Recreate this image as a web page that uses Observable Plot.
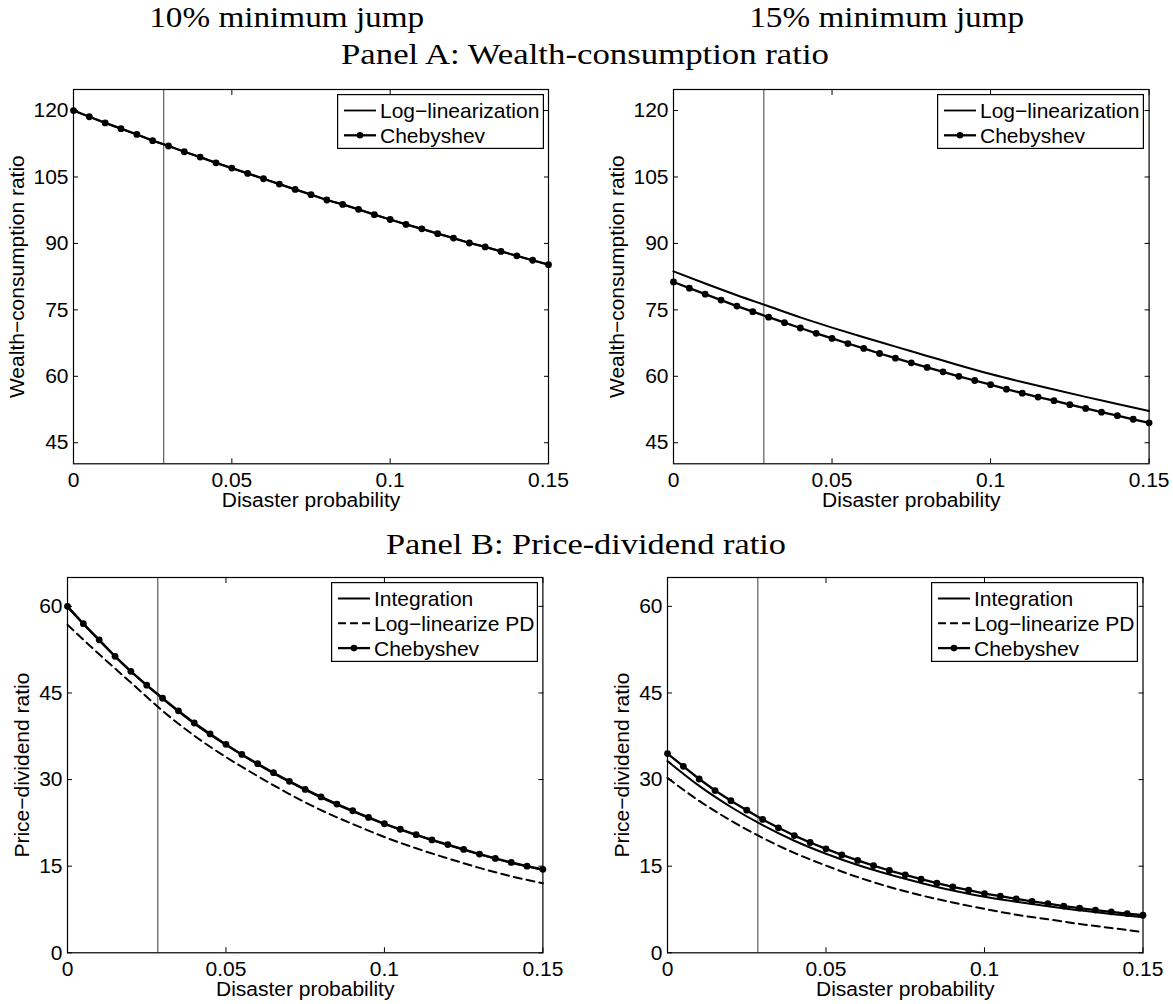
<!DOCTYPE html>
<html><head><meta charset="utf-8">
<script src="https://cdn.jsdelivr.net/npm/d3@7"></script>
<script src="https://cdn.jsdelivr.net/npm/@observablehq/plot@0.6"></script>
<style>
body{margin:0;background:#fff;}
#root{position:relative;width:1173px;height:1004px;background:#fff;overflow:hidden;}
#root svg{position:absolute;overflow:visible;}
</style></head><body><div id="root"></div>
<script>
// ---------- data ----------
const xFine = [0,0.005,0.01,0.015,0.02,0.025,0.03,0.035,0.04,0.045,0.05,0.055,0.06,0.065,0.07,0.075,0.08,0.085,0.09,0.095,0.1,0.105,0.11,0.115,0.12,0.125,0.13,0.135,0.14,0.145,0.15];
const xCoarse = [0,0.01,0.02,0.03,0.04,0.05,0.06,0.07,0.08,0.09,0.1,0.11,0.12,0.13,0.14,0.15];
const xTicks = [0, 0.05, 0.1, 0.15];
const xTickLabels = ["0", "0.05", "0.1", "0.15"];
const yTicksWC = [45, 60, 75, 90, 105, 120];
const yTicksPD = [0, 15, 30, 45, 60];
const disasterProb = 0.0285;

const columnTitles = ["10% minimum jump", "15% minimum jump"];
const panelTitles = ["Panel A: Wealth-consumption ratio", "Panel B: Price-dividend ratio"];
const xLabel = "Disaster probability";
const yLabels = ["Wealth\u2212consumption ratio", "Price\u2212dividend ratio"];

// Panel A, 10% jump
const wcCheb10 = [120.0,118.6,117.2,115.9,114.6,113.2,112.0,110.7,109.5,108.2,107.0,105.8,104.6,103.4,102.2,101.0,99.8,98.8,97.7,96.5,95.4,94.3,93.3,92.2,91.2,90.1,89.2,88.2,87.2,86.2,85.2];
const wcLog10  = [120.0,118.6,117.2,115.9,114.6,113.2,112.0,110.7,109.5,108.2,107.0,105.8,104.6,103.4,102.2,101.0,99.8,98.8,97.7,96.5,95.4,94.3,93.3,92.2,91.2,90.1,89.2,88.2,87.2,86.2,85.2];
// Panel A, 15% jump
const wcCheb15 = [81.3,79.9,78.55,77.2,75.85,74.6,73.35,72.1,70.9,69.7,68.55,67.4,66.3,65.15,64.1,63.05,62.0,61.0,60.0,59.05,58.1,57.1,56.2,55.3,54.5,53.6,52.75,51.9,51.1,50.3,49.5];
const wcLog15  = [83.7,80.95,78.3,75.8,73.3,71.0,68.8,66.7,64.6,62.5,60.5,58.7,57.0,55.35,53.75,52.15];
// Panel B, 10% jump
const pdCheb10 = [60.0,57.0,54.2,51.35,48.75,46.35,44.1,41.9,39.8,37.9,36.1,34.35,32.75,31.2,29.7,28.3,27.0,25.75,24.6,23.45,22.35,21.4,20.45,19.55,18.75,17.9,17.1,16.35,15.65,15.0,14.45];
const pdInt10  = [59.9,54.1,48.7,44.0,39.7,36.0,32.65,29.6,26.9,24.5,22.3,20.4,18.65,17.05,15.6,14.35];
const pdLog10  = [56.8,51.7,46.8,41.9,37.6,33.9,30.6,27.5,24.7,22.3,20.05,18.1,16.35,14.7,13.25,12.05];
// Panel B, 15% jump
const pdCheb15 = [34.5,32.3,30.1,28.1,26.35,24.7,23.1,21.65,20.3,19.1,18.0,16.95,16.0,15.1,14.25,13.5,12.75,12.05,11.4,10.85,10.25,9.8,9.35,8.9,8.5,8.1,7.75,7.4,7.1,6.8,6.5];
const pdInt15  = [33.2,28.9,25.25,22.1,19.4,17.15,15.2,13.55,12.1,10.8,9.7,8.85,8.05,7.35,6.7,6.15];
const pdLog15  = [30.3,26.3,22.9,19.9,17.3,15.1,13.1,11.4,9.95,8.7,7.6,6.6,5.8,5.0,4.3,3.6];

// ---------- drawing ----------
const SANS = "'Liberation Sans', Arial, Helvetica, sans-serif";
const SERIF = "'Liberation Serif', 'Times New Roman', serif";
const root = d3.select("#root");

// titles (serif, stretched to the reference widths)
const tsvg = root.append("svg").attr("width", 1173).attr("height", 1004).style("left", "0px").style("top", "0px");
[[columnTitles[0], 286.7, 27.3, 275], [columnTitles[1], 886.7, 27.3, 275],
 [panelTitles[0], 585, 64.3, 488], [panelTitles[1], 586, 553.5, 400]]
  .forEach(([t, x, y, w]) => tsvg.append("text").attr("x", x).attr("y", y).attr("text-anchor", "middle")
    .attr("font-family", SERIF).attr("font-size", 30).attr("fill", "black")
    .attr("textLength", w).attr("lengthAdjust", "spacingAndGlyphs").text(t));

const toRows = (xs, ys) => xs.map((x, i) => ({x, y: ys[i]}));

function drawPanel(c) {
  const ml = 80, mr = 20, mt = 20, mb = 60;
  const W = c.fr - c.fl + ml + mr, H = c.fb - c.ft + mt + mb;
  const marks = [
    Plot.ruleX([disasterProb], {stroke: "#3c3c3c", strokeWidth: 1})
  ];
  c.lines.forEach(s => {
    marks.push(Plot.line(toRows(s.x, s.y), {x: "x", y: "y", stroke: "black", strokeWidth: s.sw,
      strokeDasharray: s.dash, curve: s.x.length > 20 ? "linear" : "monotone-x"}));
    if (s.marker) marks.push(Plot.dot(toRows(s.x, s.y), {x: "x", y: "y", r: 3.4, fill: "black"}));
  });
  marks.push(
    Plot.frame({stroke: "black", strokeWidth: 1.2}),
    Plot.axisX(xTicks, {anchor: "bottom", tickSize: -5, tickPadding: 13, label: null,
      tickFormat: d => xTickLabels[xTicks.indexOf(d)]}),
    Plot.axisX(xTicks, {anchor: "top", tickSize: -5, fill: "none", label: null}),
    Plot.axisY(c.yTicks, {anchor: "left", tickSize: -5, tickPadding: 10, label: null, tickFormat: d => String(d)}),
    Plot.axisY(c.yTicks, {anchor: "right", tickSize: -5, fill: "none", label: null}),
    Plot.text([xLabel], {frameAnchor: "bottom", dy: c.xlabDy, textAnchor: "middle", lineAnchor: "middle", fontSize: 21}),
    Plot.text([c.ylabel], {frameAnchor: "left", dx: c.ylabDx, rotate: -90, textAnchor: "middle", lineAnchor: "middle", fontSize: 21})
  );
  const p = Plot.plot({
    width: W, height: H, marginLeft: ml, marginRight: mr, marginTop: mt, marginBottom: mb,
    x: {domain: [0, 0.15]},
    y: {domain: c.yDomain},
    style: {fontFamily: SANS, fontSize: "21px", color: "black", background: "transparent", overflow: "visible"},
    marks
  });
  p.style.left = (c.fl - ml) + "px";
  p.style.top = (c.ft - mt) + "px";
  root.node().appendChild(p);

  // legend
  const n = c.legend.length;
  const bw = 207, bh = n === 2 ? 55 : 80;
  const bx = c.fr - 4.6 - bw, by = c.ft + 4.5;
  const lg = root.append("svg").attr("width", bw).attr("height", bh).style("left", bx + "px").style("top", by + "px");
  lg.append("rect").attr("x", 0.6).attr("y", 0.6).attr("width", bw - 1.2).attr("height", bh - 1.2)
    .attr("fill", "white").attr("stroke", "black").attr("stroke-width", 1.2);
  c.legend.forEach((it, i) => {
    const y = 16.5 + 24.8 * i;
    lg.append("line").attr("x1", 7).attr("x2", 39).attr("y1", y).attr("y2", y)
      .attr("stroke", "black").attr("stroke-width", it.sw).attr("stroke-dasharray", it.dash || null);
    if (it.marker) lg.append("circle").attr("cx", 23).attr("cy", y).attr("r", 3.3).attr("fill", "black");
    lg.append("text").attr("x", 43).attr("y", y).attr("dy", "0.36em").attr("font-family", SANS)
      .attr("font-size", 21).attr("fill", "black").text(it.label);
  });
}

const legWC = [
  {label: "Log\u2212linearization", sw: 1.8},
  {label: "Chebyshev", sw: 2.3, marker: true}
];
const legPD = [
  {label: "Integration", sw: 2},
  {label: "Log\u2212linearize PD", sw: 2, dash: "8,4"},
  {label: "Chebyshev", sw: 2.3, marker: true}
];

drawPanel({fl: 73.2, fr: 548.2, ft: 89, fb: 463.3, yDomain: [40.25, 124.75], yTicks: yTicksWC,
  ylabel: yLabels[0], ylabDx: -56, xlabDy: 36.5, legend: legWC,
  lines: [{x: xFine, y: wcLog10, sw: 1.8}, {x: xFine, y: wcCheb10, sw: 2.3, marker: true}]});
drawPanel({fl: 673.4, fr: 1149, ft: 89, fb: 463.3, yDomain: [40.25, 124.75], yTicks: yTicksWC,
  ylabel: yLabels[0], ylabDx: -56, xlabDy: 36.5, legend: legWC,
  lines: [{x: xCoarse, y: wcLog15, sw: 2}, {x: xFine, y: wcCheb15, sw: 2.3, marker: true}]});
drawPanel({fl: 66.7, fr: 542.1, ft: 577, fb: 952.3, yDomain: [0, 65], yTicks: yTicksPD,
  ylabel: yLabels[1], ylabDx: -45, xlabDy: 36.5, legend: legPD,
  lines: [{x: xCoarse, y: pdLog10, sw: 2, dash: "8,5"}, {x: xCoarse, y: pdInt10, sw: 2}, {x: xFine, y: pdCheb10, sw: 2.3, marker: true}]});
drawPanel({fl: 667.3, fr: 1142.8, ft: 577, fb: 952.3, yDomain: [0, 65], yTicks: yTicksPD,
  ylabel: yLabels[1], ylabDx: -45, xlabDy: 36.5, legend: legPD,
  lines: [{x: xCoarse, y: pdLog15, sw: 2, dash: "8,5"}, {x: xCoarse, y: pdInt15, sw: 2}, {x: xFine, y: pdCheb15, sw: 2.3, marker: true}]});
</script>
</body></html>
